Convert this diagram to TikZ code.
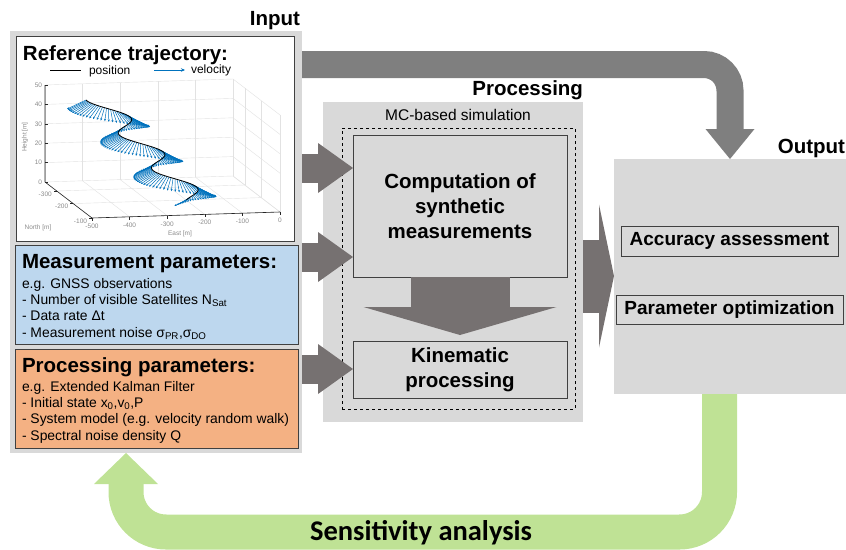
\documentclass[tikz,border=0pt]{standalone}
\usepackage{fontspec}
\setmainfont{Liberation Sans}
\newfontfamily\calibfont{Carlito}
\usepackage{tikz}
\usetikzlibrary{arrows.meta,calc}
\definecolor{PGray}{HTML}{D9D9D9}
\definecolor{PBorder}{HTML}{404040}
\definecolor{PArrow}{HTML}{767171}
\definecolor{PArrowTop}{HTML}{7F7F7F}
\definecolor{PGreen}{HTML}{BFE295}
\definecolor{PBlue}{HTML}{BDD7EE}
\definecolor{POrange}{HTML}{F4B183}
\definecolor{PLine}{HTML}{0072BD}
\definecolor{PGrid}{HTML}{E2E2E2}
\definecolor{PAxis}{HTML}{262626}
\definecolor{PTick}{HTML}{8C8C8C}

\begin{document}
\begin{tikzpicture}[
  x=1pt,y=-1pt,
  every node/.style={inner sep=0pt,outer sep=0pt,font=\fontsize{13.9}{16.4}\selectfont},
  panel/.style={fill=PGray},
  inbox/.style={draw=PBorder,line width=0.9pt},
  simbox/.style={draw=PBorder,line width=0.9pt,fill=PGray,align=center,
    font=\fontsize{20.5}{25}\selectfont\bfseries},
  outbox/.style={draw=PBorder,line width=0.9pt,fill=PGray,
    font=\fontsize{19}{22}\selectfont\bfseries},
  heading/.style={font=\fontsize{20.5}{24}\selectfont\bfseries},
  body/.style={align=left,font=\fontsize{13.9}{16.4}\selectfont},
  blockarr/.style n args={4}{draw=#1,line width=#2,
    -{Triangle[length=#3,width=#4,line width=0pt]}},
  gridln/.style={draw=PGrid,line width=0.4pt},
  axln/.style={draw=PAxis,line width=0.6pt},
  ticklbl/.style={font=\fontsize{6.5}{7}\selectfont,text=PTick},
  velarr/.style={draw=PLine,line width=0.5pt,-{Stealth[length=2.4pt,width=2pt]}}
]
  \useasboundingbox (0,0) rectangle (846,549);

  % input side
  \node[panel,minimum width=292pt,minimum height=422pt] (inpanel) at (156,242) {};
  \node[inbox,fill=white,minimum width=278pt,minimum height=205pt] (trajbox) at (155,138.5) {};
  \node[inbox,fill=PBlue,minimum width=283pt,minimum height=99pt] (measbox) at (156.5,294.5) {};
  \node[inbox,fill=POrange,minimum width=283pt,minimum height=99pt] (procbox) at (156.5,398.5) {};
  \node[heading,anchor=base east] (intitle) at (300,25) {Input};

  % processing side
  \node[panel,minimum width=260pt,minimum height=320pt] (procpanel) at (453,262) {};
  \node[draw=black,dashed,line width=0.7pt,minimum width=233pt,minimum height=281pt] (mcbox) at (458.5,268.5) {};
  \node[simbox,minimum width=214pt,minimum height=142pt] (compbox) at (460,206)
    {Computation of\\synthetic\\measurements};
  \node[simbox,minimum width=214pt,minimum height=57pt] (kinbox) at (460,369.5)
    {Kinematic\\processing};
  \node[heading,anchor=base east] (proctitle) at (583,95) {Processing};
  \node[anchor=base,font=\fontsize{15.5}{18}\selectfont] (mclbl) at (458,120) {MC-based simulation};

  % output side
  \node[panel,minimum width=232pt,minimum height=235pt] (outpanel) at (730,276.5) {};
  \node[outbox,minimum width=217pt,minimum height=30pt] (accbox) at (729.5,241) {Accuracy assessment};
  \node[outbox,minimum width=227pt,minimum height=29pt] (optbox) at (729.5,309.5) {Parameter optimization};
  \node[heading,anchor=base east] (outtitle) at (845,153) {Output};

  % reference trajectory plot
  \node[heading,anchor=base west] (trajtitle) at (23,60) {Reference trajectory:};
  \draw[black,line width=0.8pt] (50,70) -- (81,70);
  \node[anchor=base west,font=\fontsize{12}{14}\selectfont] (poslbl) at (89,74) {position};
  \draw[PLine,line width=0.8pt,-{Stealth[length=4pt,width=3.5pt]}] (154,70) -- (185,70);
  \node[anchor=base west,font=\fontsize{12}{14}\selectfont] (vellbl) at (191,73) {velocity};

  \coordinate (pA) at (45,182);
  \coordinate (pB) at (92,218);
  \coordinate (pC) at (280,212);
  \coordinate (pD) at (233,176);
  \foreach \k in {0,...,5}
    \draw[gridln] ($(pA)+(0,-19.4*\k)$) -- ($(pD)+(0,-19.4*\k)$) -- ($(pC)+(0,-19.4*\k)$);
  \foreach \j in {0,...,5}{
    \draw[gridln] ($(pA)!\j/5!(pD)$) -- +(0,-97);
    \draw[gridln] ($(pA)!\j/5!(pD)$) -- ($(pB)!\j/5!(pC)$);
  }
  \foreach \t in {0.25,0.6,1}{
    \draw[gridln] ($(pA)!\t!(pB)$) -- ($(pD)!\t!(pC)$);
    \draw[gridln] ($(pD)!\t!(pC)$) -- +(0,-97);
  }
  \draw[axln] ($(pA)+(0,-97)$) -- (pA) -- (pB) -- (pC);
  \foreach \k/\v in {0/0,1/10,2/20,3/30,4/40,5/50}{
    \draw[axln] ($(pA)+(0,-19.4*\k)$) -- +(2.5,0);
    \node[ticklbl,anchor=east] at ($(pA)+(-3,-19.4*\k)$) {\v};
  }
  \foreach \j/\v in {0/-500,1/-400,2/-300,3/-200,4/-100,5/0}{
    \draw[axln] ($(pB)!\j/5!(pC)$) -- +(0,3);
    \node[ticklbl,anchor=north] at ($(pB)!\j/5!(pC)+(0,6)$) {\v};
  }
  \foreach \t/\v in {0.25/-300,0.6/-200,1/-100}{
    \draw[axln] ($(pA)!\t!(pB)$) -- +(-3,0);
    \node[ticklbl,anchor=east] at ($(pA)!\t!(pB)+(-5,3)$) {\v};
  }
  \node[ticklbl,rotate=90] (hlbl) at (25,137) {Height [m]};
  \node[ticklbl] (nlbl) at (38,228) {North [m]};
  \node[ticklbl] (elbl) at (180,234) {East [m]};

  \foreach \i in {0,...,170}{
    \pgfmathsetmacro\s{\i/170}
    \pgfmathsetmacro\ang{1028.57*\s}
    \draw[velarr] ({100+95*\s-14*cos(\ang)},{100+100*\s})
      -- ++({-19*cos(\ang)},{9+4*sin(\ang)});
  }
  \draw[black,line width=0.8pt] plot[domain=0:1,samples=150,variable=\s]
    ({100+95*\s-14*cos(1028.57*\s)},{100+100*\s});

  % parameter boxes
  \node[heading,anchor=base west] (meastitle) at (22,268) {Measurement parameters:};
  \node[body,anchor=north west] (meastext) at (22,278) {e.g. GNSS observations\\
    - Number of visible Satellites N\textsubscript{Sat}\\
    - Data rate Δt\\
    - Measurement noise σ\textsubscript{PR},σ\textsubscript{DO}};
  \node[heading,anchor=base west] (proctitle2) at (22,372) {Processing parameters:};
  \node[body,anchor=north west] (proctext) at (22,381) {e.g. Extended Kalman Filter\\
    - Initial state x\textsubscript{0},v\textsubscript{0},P\\
    - System model (e.g. velocity random walk)\\
    - Spectral noise density Q};

  % block arrows
  \draw[blockarr={PArrow}{29pt}{35pt}{50pt}] (inpanel.east |- 0,168) -- (compbox.west |- 0,168);
  \draw[blockarr={PArrow}{29pt}{35pt}{50pt}] (inpanel.east |- 0,257) -- (compbox.west |- 0,257);
  \draw[blockarr={PArrow}{29pt}{35pt}{50pt}] (inpanel.east |- 0,369) -- (kinbox.west |- 0,369);
  \draw[blockarr={PArrow}{99pt}{28pt}{193pt}] (compbox.south) -- ($(kinbox.north)-(0,6)$);
  \draw[blockarr={PArrow}{73pt}{15pt}{143pt}] (procpanel.east |- 0,276) -- (outpanel.west |- 0,276);
  \draw[blockarr={PArrowTop}{27pt}{30pt}{49pt},rounded corners=26pt]
    (inpanel.east |- 0,64.5) -| (outpanel.north);

  % feedback loop
  \coordinate (loopcorner) at (126,532);
  \draw[blockarr={PGreen}{35pt}{31pt}{64pt},rounded corners=40pt]
    ($(outpanel.south)+(-10.5,0)$) |- (loopcorner) -- (inpanel.south -| loopcorner);
  \node[anchor=base,font=\calibfont\fontsize{28.5}{30}\selectfont\bfseries] (senslbl)
    at (421,540) {Sensitivity analysis};
\end{tikzpicture}
\end{document}
